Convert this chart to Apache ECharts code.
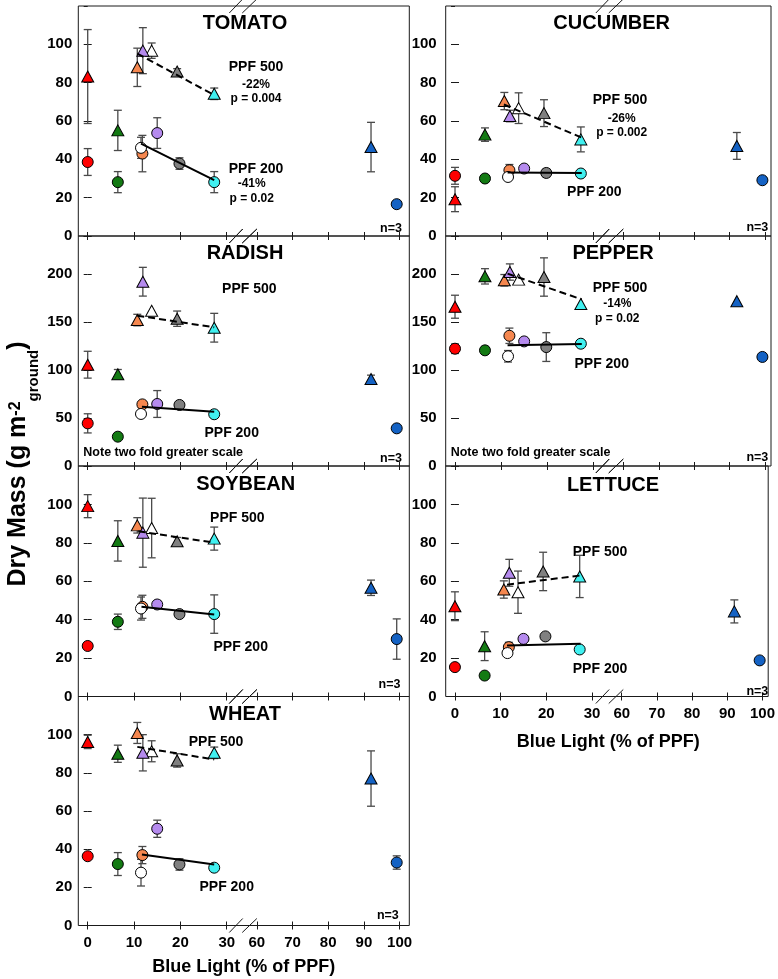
<!DOCTYPE html>
<html><head><meta charset="utf-8">
<script src="https://cdn.jsdelivr.net/npm/echarts@6/dist/echarts.min.js"></script>
<style>html,body{margin:0;padding:0;background:#fff}#c{width:778px;height:979px}</style>
</head><body><div id="c"></div>
<script>
// ---------------- DATA ----------------
// Treatment order: Red, Green, Orange, White, Purple, Gray, Cyan, Blue
const treatments = ['Red', 'Green', 'Orange', 'White', 'Purple', 'Gray', 'Cyan', 'Blue'];
const treatmentColors = ['#ff0000', '#137a13', '#f5874f', '#ffffff', '#b58aee', '#808080', '#40f0f0', '#1462c4'];
// Blue light (% of PPF) for each treatment
const blue500X = [0, 6.5, 10.7, 13.8, 11.9, 19.3, 27.3, 92];
const blue200X = [0, 6.5, 11.8, 11.5, 15.0, 19.8, 27.3, 99.2];
const xTickValues = [0, 10, 20, 30, 60, 70, 80, 90, 100];

const tomato500 = [83.2, 55.1, 88.0, 96.7, 96.7, 85.8, 74.2, 46.4];
const tomato500Err = [24.5, 10.5, 10, 4, 12, 1.5, 3, 12.9];
const tomato200 = [38.6, 28.1, 43.0, 46.0, 53.7, 37.8, 28.1, 16.6];
const tomato200Err = [7, 5.5, 9.5, 5.5, 8, 3, 5.5, 0];
const tomatoFit500 = [[10.7, 95.2], [27.3, 73.5]];
const tomatoFit200 = [[11.5, 48.2], [27.3, 29.1]];

const cucumber500 = [19.2, 52.9, 70.4, 66.7, 62.6, 64.1, 50.4, 47.0];
const cucumber500Err = [6.5, 3.5, 4.5, 8, 3, 7, 6.5, 7];
const cucumber200 = [31.4, 30.0, 34.3, 30.8, 35.2, 32.9, 32.6, 29.1];
const cucumber200Err = [4.4, 0, 3, 0, 0, 2, 0, 0];
const cucumberFit500 = [[10.6, 68.6], [27.5, 51.3]];
const cucumberFit200 = [[11.4, 33.1], [27.5, 32.9]];

const radish500 = [105.7, 95.7, 152.3, 162.0, 192.3, 153.7, 144.3, 90.8];
const radish500Err = [14, 5, 6, 0, 15, 8, 15, 4];
const radish200 = [44.5, 30.6, 64.3, 54.3, 64.7, 63.7, 54.0, 39.3];
const radish200Err = [10, 0, 0, 0, 14, 3, 0, 0];
const radishFit500 = [[10.7, 156.9], [27.3, 144.7]];
const radishFit200 = [[11.7, 61.9], [27.3, 56.7]];

const pepper500 = [166.2, 197.9, 193.8, 194.5, 202.4, 197.2, 169.0, 172.0];
const pepper500Err = [12, 8, 6, 0, 8.5, 20, 0, 0];
const pepper200 = [122.4, 120.7, 135.9, 114.5, 130.0, 124.1, 127.6, 113.8];
const pepper200Err = [5, 4, 8, 6, 3, 15, 0, 0];
const pepperFit500 = [[11.4, 200.7], [27.5, 173.8]];
const pepperFit200 = [[11.4, 125.9], [27.5, 127.2]];

const soybean500 = [99.1, 81.0, 89.1, 87.7, 85.3, 80.8, 82.2, 56.6];
const soybean500Err = [6, 10.5, 4, 15.5, 18, 2, 6, 4];
const soybean200 = [26.3, 38.9, 46.7, 45.8, 47.9, 42.9, 42.9, 29.9];
const soybean200Err = [0, 4, 6, 6, 2, 0, 10, 10.5];
const soybeanFit500 = [[10.9, 86.0], [27.3, 80.1]];
const soybeanFit200 = [[11.6, 46.7], [27.3, 42.7]];

const lettuce500 = [47.0, 26.2, 55.7, 54.3, 64.4, 65.1, 62.5, 44.3];
const lettuce500Err = [7.5, 7.5, 4.5, 11, 7, 10, 11, 6];
const lettuce200 = [15.3, 10.9, 25.7, 22.6, 30.0, 31.3, 24.5, 18.8];
const lettuce200Err = [0, 0, 2.5, 0, 0, 0, 0, 0];
const lettuceFit500 = [[11.4, 58.2], [27.5, 63.0]];
const lettuceFit200 = [[11.4, 26.6], [27.5, 27.4]];

const wheat500 = [96.2, 90.0, 100.9, 91.3, 90.5, 86.5, 90.5, 77.0];
const wheat500Err = [3.5, 4.5, 5.5, 5.5, 9.5, 3.5, 3, 14.5];
const wheat200 = [36.3, 32.2, 36.9, 27.7, 50.7, 32.0, 30.3, 33.0];
const wheat200Err = [0, 6, 4.5, 7, 4.5, 3, 0, 3.5];
const wheatFit500 = [[10.7, 93.6], [27.3, 87.0]];
const wheatFit200 = [[11.7, 37.2], [27.3, 32.0]];

// ---------------- LAYOUT ----------------
const FONT = '"Liberation Sans", Arial, sans-serif';
// broken axis: 0-30 linear, then 60-100 compressed
function mapX(x) { return x <= 30 ? x : 36.5 + (x - 60) * 0.77; }
function labelFor(v) {
  for (let i = 0; i < xTickValues.length; i++) if (Math.abs(mapX(xTickValues[i]) - v) < 1e-6) return String(xTickValues[i]);
  return '';
}
const COLS = [
  { left: 78.3, width: 331, min: -2.03, max: 69.4, labelMargin: 6 },
  { left: 445.7, width: 325.3, min: -2.02, max: 68.55, labelMargin: 9 }
];
const ROWS = [{ top: 6, h: 230 }, { top: 236, h: 230 }, { top: 466, h: 230.5 }, { top: 696.5, h: 229 }];

const panels = [
  { title: 'TOMATO', col: 0, row: 0, ymax: 120, yint: 20, d5: tomato500, e5: tomato500Err, d2: tomato200, e2: tomato200Err, f5: tomatoFit500, f2: tomatoFit200, tpos: [245, 23.5],
    notes: [['PPF 500', 256, 66.7, 14, 'center'], ['-22%', 256, 85, 12, 'center'], ['p = 0.004', 256, 99, 12, 'center'], ['PPF 200', 256, 169.3, 14, 'center'], ['-41%', 251.7, 184, 12, 'center'], ['p = 0.02', 251.7, 199, 12, 'center'], ['n=3', 402, 228.3, 12.5, 'right']] },
  { title: 'CUCUMBER', col: 1, row: 0, ymax: 120, yint: 20, d5: cucumber500, e5: cucumber500Err, d2: cucumber200, e2: cucumber200Err, f5: cucumberFit500, f2: cucumberFit200, tpos: [611.7, 23.5],
    notes: [['PPF 500', 620, 100, 14, 'center'], ['-26%', 621.7, 118.3, 12, 'center'], ['p = 0.002', 621.7, 132.3, 12, 'center'], ['PPF 200', 594.3, 192.3, 14, 'center'], ['n=3', 768.3, 227.7, 12.5, 'right']] },
  { title: 'RADISH', col: 0, row: 1, ymax: 240, yint: 50, d5: radish500, e5: radish500Err, d2: radish200, e2: radish200Err, f5: radishFit500, f2: radishFit200, tpos: [245, 253],
    notes: [['PPF 500', 249.3, 289.3, 14, 'center'], ['PPF 200', 231.7, 433.3, 14, 'center'], ['Note two fold greater scale', 83.3, 452.7, 12.5, 'left'], ['n=3', 402, 458.3, 12.5, 'right']] },
  { title: 'PEPPER', col: 1, row: 1, ymax: 240, yint: 50, d5: pepper500, e5: pepper500Err, d2: pepper200, e2: pepper200Err, f5: pepperFit500, f2: pepperFit200, tpos: [613, 253],
    notes: [['PPF 500', 620, 288.3, 14, 'center'], ['-14%', 617.3, 304, 12, 'center'], ['p = 0.02', 617.3, 318.3, 12, 'center'], ['PPF 200', 601.7, 364, 14, 'center'], ['Note two fold greater scale', 450.7, 452.7, 12.5, 'left'], ['n=3', 768.3, 458, 12.5, 'right']] },
  { title: 'SOYBEAN', col: 0, row: 2, ymax: 120, yint: 20, d5: soybean500, e5: soybean500Err, d2: soybean200, e2: soybean200Err, f5: soybeanFit500, f2: soybeanFit200, tpos: [245.7, 484],
    notes: [['PPF 500', 237.3, 518.3, 14, 'center'], ['PPF 200', 240.7, 646.7, 14, 'center'], ['n=3', 400.5, 685, 12.5, 'right']] },
  { title: 'LETTUCE', col: 1, row: 2, ymax: 120, yint: 20, d5: lettuce500, e5: lettuce500Err, d2: lettuce200, e2: lettuce200Err, f5: lettuceFit500, f2: lettuceFit200, tpos: [613, 485.7], bottom: true, xTitleY: 741.7,
    notes: [['PPF 500', 600, 551.7, 14, 'center'], ['PPF 200', 600, 669.3, 14, 'center'], ['n=3', 768.3, 691.7, 12.5, 'right']] },
  { title: 'WHEAT', col: 0, row: 3, ymax: 120, yint: 20, d5: wheat500, e5: wheat500Err, d2: wheat200, e2: wheat200Err, f5: wheatFit500, f2: wheatFit200, tpos: [245, 714], bottom: true, xTitleY: 966.7,
    notes: [['PPF 500', 216, 741.7, 14, 'center'], ['PPF 200', 226.7, 886.7, 14, 'center'], ['n=3', 398.8, 916, 12.5, 'right']] }
];

// ---------------- BUILD OPTION ----------------
const grids = [], xAxes = [], yAxes = [], series = [], graphics = [];
const tickVals = xTickValues.map(mapX);

function errorBarSeries(i, xs, ys, es) {
  return {
    type: 'custom', xAxisIndex: 2 * i, yAxisIndex: 2 * i, z: 2, silent: true,
    encode: { x: 0, y: 1 },
    data: ys.map((v, k) => [mapX(xs[k]), v, es[k]]),
    renderItem: function (params, api) {
      const x = api.value(0), y = api.value(1), e = api.value(2);
      if (!e) return null;
      const t = api.coord([x, y + e]), b = api.coord([x, y - e]);
      const cap = 4, st = { stroke: '#4a4a4a', lineWidth: 1.3 };
      return { type: 'group', children: [
        { type: 'line', shape: { x1: t[0], y1: t[1], x2: b[0], y2: b[1] }, style: st },
        { type: 'line', shape: { x1: t[0] - cap, y1: t[1], x2: t[0] + cap, y2: t[1] }, style: st },
        { type: 'line', shape: { x1: b[0] - cap, y1: b[1], x2: b[0] + cap, y2: b[1] }, style: st }
      ] };
    }
  };
}

function txt(text, x, y, size, align, extra) {
  return Object.assign({
    type: 'text', x: x, y: y, z: 50,
    style: { text: text, fill: '#000', font: 'bold ' + size + 'px ' + FONT, align: align, textAlign: align, verticalAlign: 'middle', textVerticalAlign: 'middle' }
  }, extra || {});
}

panels.forEach((p, i) => {
  const c = COLS[p.col], r = ROWS[p.row];
  grids.push({ left: c.left, top: r.top, width: c.width, height: r.h, show: true, borderColor: '#1a1a1a', borderWidth: 1, backgroundColor: 'transparent' });
  const tickCommon = { show: true, inside: true, length: 4, customValues: tickVals, lineStyle: { color: '#1a1a1a', width: 1 } };
  xAxes.push({ gridIndex: i, type: 'value', position: 'bottom', min: c.min, max: c.max,
    axisLine: { show: false }, splitLine: { show: false }, axisTick: tickCommon,
    axisLabel: { show: !!p.bottom, customValues: tickVals, formatter: labelFor, margin: 10, fontSize: 15, fontWeight: 'bold', color: '#000', fontFamily: FONT } });
  xAxes.push({ gridIndex: i, type: 'value', position: 'top', min: c.min, max: c.max,
    axisLine: { show: false }, splitLine: { show: false }, axisTick: tickCommon, axisLabel: { show: false, customValues: tickVals } });
  const yTick = { show: true, inside: true, length: 4, lineStyle: { color: '#1a1a1a', width: 1 } };
  yAxes.push({ gridIndex: i, type: 'value', position: 'left', min: 0, max: p.ymax, interval: p.yint,
    axisLine: { show: false }, splitLine: { show: false }, axisTick: yTick,
    axisLabel: { showMaxLabel: false, margin: c.labelMargin, fontSize: 15, fontWeight: 'bold', color: '#000', fontFamily: FONT } });
  yAxes.push({ gridIndex: i, type: 'value', position: 'right', min: 0, max: p.ymax, interval: p.yint,
    axisLine: { show: false }, splitLine: { show: false }, axisTick: yTick, axisLabel: { show: false } });

  series.push(errorBarSeries(i, blue500X, p.d5, p.e5));
  series.push(errorBarSeries(i, blue200X, p.d2, p.e2));
  series.push({ type: 'scatter', xAxisIndex: 2 * i, yAxisIndex: 2 * i, z: 3, symbol: 'triangle', symbolSize: [12, 11],
    itemStyle: { borderColor: '#000', borderWidth: 1, opacity: 1 },
    data: p.d5.map((v, k) => ({ name: treatments[k], value: [mapX(blue500X[k]), v], itemStyle: { color: treatmentColors[k] } })) });
  series.push({ type: 'scatter', xAxisIndex: 2 * i, yAxisIndex: 2 * i, z: 3, symbol: 'circle', symbolSize: 11,
    itemStyle: { borderColor: '#000', borderWidth: 1, opacity: 1 },
    data: p.d2.map((v, k) => ({ name: treatments[k], value: [mapX(blue200X[k]), v], itemStyle: { color: treatmentColors[k] } })) });
  series.push({ type: 'line', xAxisIndex: 2 * i, yAxisIndex: 2 * i, z: 4, symbol: 'none', silent: true,
    lineStyle: { color: '#000', width: 2, type: [7, 4] }, data: p.f5.map(d => [mapX(d[0]), d[1]]) });
  series.push({ type: 'line', xAxisIndex: 2 * i, yAxisIndex: 2 * i, z: 4, symbol: 'none', silent: true,
    lineStyle: { color: '#000', width: 2 }, data: p.f2.map(d => [mapX(d[0]), d[1]]) });

  // title & notes
  graphics.push(txt(p.title, p.tpos[0], p.tpos[1], 20, 'center'));
  p.notes.forEach(n => graphics.push(txt(n[0], n[1], n[2], n[3], n[4])));
  if (p.bottom) graphics.push(txt('Blue Light (% of PPF)', c.left + c.width / 2, p.xTitleY, 18, 'center'));

  // axis break marks on top and bottom borders
  const px = v => c.left + (v - c.min) * c.width / (c.max - c.min);
  [r.top, r.top + r.h].forEach(yy => {
    [[30.55, 33.45], [33.35, 36.5]].forEach(s => {
      graphics.push({ type: 'line', z: 60, shape: { x1: px(s[0]), y1: yy + 7, x2: px(s[1]), y2: yy - 7 }, style: { stroke: '#1a1a1a', lineWidth: 1 } });
    });
  });
});

// y-axis title with superscript / subscript
graphics.push({
  type: 'text', x: 20.5, y: 464, rotation: Math.PI / 2, z: 50,
  style: {
    text: '{a|Dry Mass (g m}{b|-2}{c|ground}{a|)}',
    align: 'center', verticalAlign: 'middle', textAlign: 'center', textVerticalAlign: 'middle',
    rich: {
      a: { font: 'bold 25px ' + FONT, fill: '#000', lineHeight: 30, verticalAlign: 'top' },
      b: { font: 'bold 16px ' + FONT, fill: '#000', lineHeight: 16, verticalAlign: 'top', padding: [2, 0, 0, 0] },
      c: { font: 'bold 15px ' + FONT, fill: '#000', lineHeight: 15, verticalAlign: 'top', padding: [21, 0, 0, 0] }
    }
  }
});

const chart = echarts.init(document.getElementById('c'), null, { renderer: 'canvas' });
chart.setOption({
  animation: false,
  backgroundColor: '#fff',
  textStyle: { fontFamily: FONT },
  grid: grids, xAxis: xAxes, yAxis: yAxes, series: series, graphic: graphics
});
</script></body></html>
